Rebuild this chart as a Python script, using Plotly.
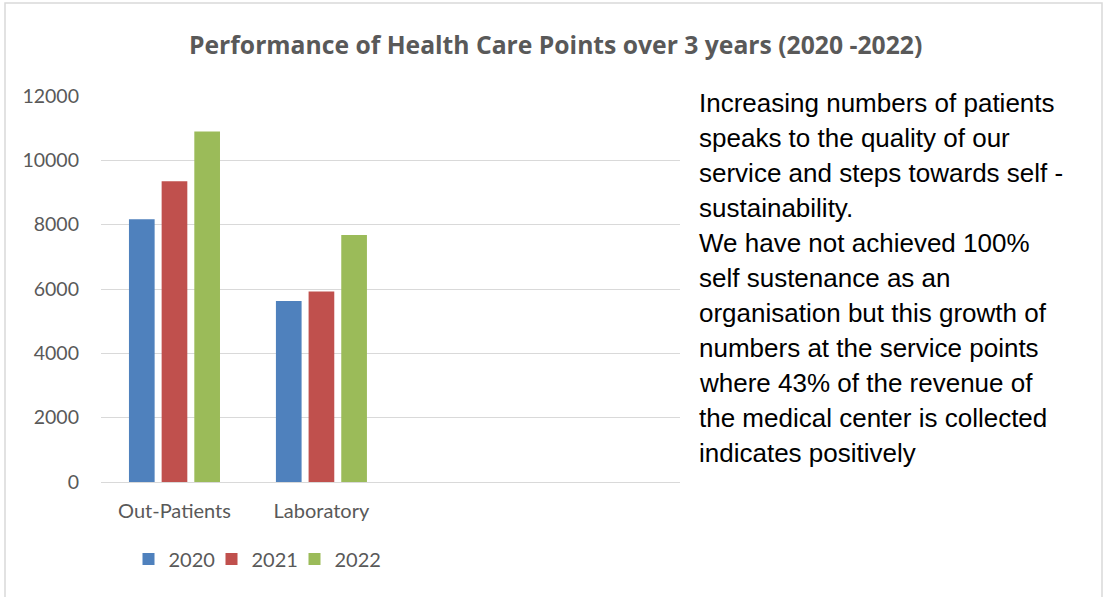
import plotly.graph_objects as go

categories = ["Out-Patients", "Laboratory", " ", "  "]
series_names = ["2020", "2021", "2022"]
values_2020 = [8170, 5630, None, None]
values_2021 = [9350, 5920, None, None]
values_2022 = [10900, 7680, None, None]
colors = ["#4F81BD", "#C0504D", "#9BBB59"]
y_ticks = [0, 2000, 4000, 6000, 8000, 10000, 12000]
y_tick_labels = ["0", "2000", "4000", "6000", "8000", "10000", "12000"]
title_text = "Performance of Health Care Points over 3 years (2020 -2022)"
note_lines = [
    "Increasing numbers of patients",
    "speaks to the quality of our",
    "service and steps towards self -",
    "sustainability.",
    "We have not achieved 100%",
    "self sustenance as an",
    "organisation but this growth of",
    "numbers at the service points",
    "where 43% of the revenue of",
    "the medical center is collected",
    "indicates positively",
]

W, H = 1105, 597
L, R, T, B = 101, 680, 96, 482
pw, ph = R - L, B - T

def px_x(p):
    return (p - L) / pw

def px_y(p):
    return (B - p) / ph

fig = go.Figure()
for name, vals, c in zip(series_names, [values_2020, values_2021, values_2022], colors):
    fig.add_trace(go.Bar(x=categories, y=vals, name=name, marker=dict(color=c, line=dict(width=0))))

# invisible spacer legend entry (keeps the last legend label from being clipped)
fig.add_trace(go.Scatter(x=[None], y=[None], mode="markers", name=" ",
                         marker=dict(color="rgba(0,0,0,0)"), hoverinfo="skip", showlegend=True))

fig.update_layout(
    width=W, height=H,
    margin=dict(l=L, r=W - R, t=T, b=H - B, pad=0),
    paper_bgcolor="white", plot_bgcolor="white",
    barmode="group", bargap=0.333, bargroupgap=0.214,
    font=dict(family="Lato", color="#595959"),
    showlegend=True,
    legend=dict(orientation="h", xanchor="center", x=px_x(294.5), yanchor="middle", y=px_y(559),
                font=dict(size=20, color="#595959", family="Lato"), itemwidth=30,
                entrywidth=38, entrywidthmode="pixels",
                bgcolor="rgba(0,0,0,0)"),
    xaxis=dict(range=[-0.5, 3.44], showgrid=False, showline=False, zeroline=False,
               tickfont=dict(size=20, color="#595959", family="Lato"), ticks="", ticklabelstandoff=15),
    yaxis=dict(range=[0, 12000], tickvals=y_ticks, ticktext=y_tick_labels,
               showgrid=True, gridcolor="#D9D9D9", gridwidth=1.3,
               zeroline=True, zerolinecolor="#D9D9D9", zerolinewidth=1.3, showline=False,
               tickfont=dict(size=19.5, color="#595959", family="Lato"), ticks="", ticklabelstandoff=21),
)

fig.add_annotation(text="<b>" + title_text + "</b>", xref="paper", yref="paper",
                   x=px_x(555), y=px_y(45), xanchor="center", yanchor="middle", showarrow=False,
                   font=dict(size=24.7, color="#595959", family="Open Sans"))

line_y0, line_step = 103.5, 34.9
for i, line in enumerate(note_lines):
    fig.add_annotation(text=line, xref="paper", yref="paper", x=px_x(697), y=px_y(line_y0 + i * line_step),
                       xanchor="left", yanchor="middle", showarrow=False,
                       font=dict(size=26, color="#000000", family="Liberation Sans"))

fig.add_shape(type="rect", xref="paper", yref="paper",
              x0=px_x(5), x1=px_x(1102), y0=px_y(603), y1=px_y(3),
              line=dict(color="#D9D9D9", width=1.5), fillcolor="rgba(0,0,0,0)", layer="below")

fig.write_html("out.html", config={"displayModeBar": False},
               post_script="document.body.style.margin='0';document.body.style.overflow='hidden';")
